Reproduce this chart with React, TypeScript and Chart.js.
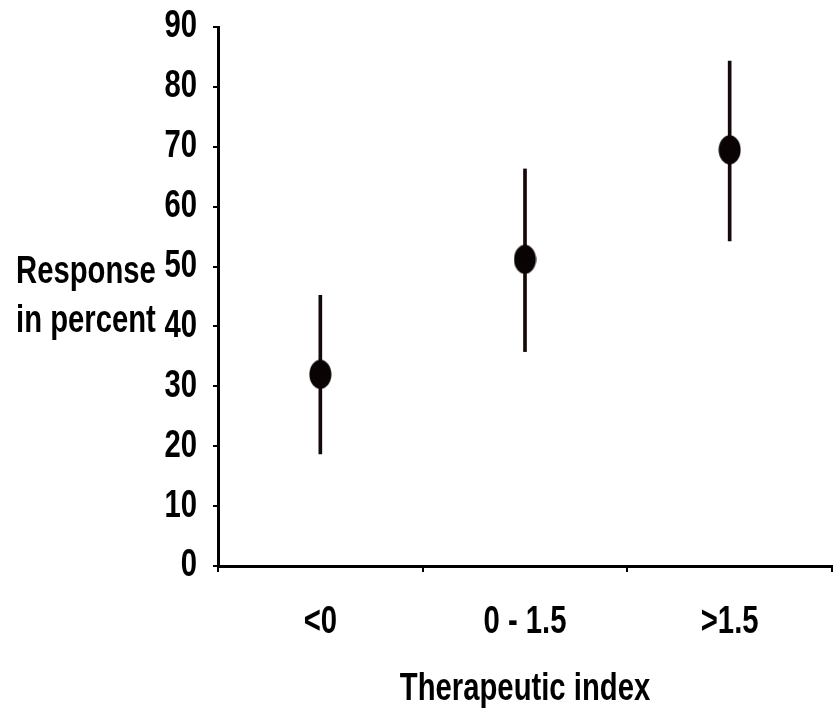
import React, { useEffect, useRef } from "react";
import { Chart, registerables } from "chart.js";

Chart.register(...registerables);

const categories = ["<0", "0 - 1.5", ">1.5"];
const responseMean = [32.0, 51.2, 69.5];
const errorLow = [18.7, 35.8, 54.3];
const errorHigh = [45.2, 66.3, 84.3];
const yTitleLines = ["Response", "in percent"];
const xTitle = "Therapeutic index";

const FONT = "'Liberation Sans', Arial, sans-serif";
const FONT_SIZE = 38;
const SQUEEZE = 0.77;

function makeEllipse(): HTMLCanvasElement {
  const c = document.createElement("canvas");
  c.width = 23;
  c.height = 30;
  const g = c.getContext("2d")!;
  g.fillStyle = "#0a0303";
  g.beginPath();
  g.ellipse(11.5, 15, 11, 14.5, 0, 0, Math.PI * 2);
  g.fill();
  return c;
}

// Narrow-font look: condense every text run horizontally via fillText's maxWidth
const narrowTextPlugin = {
  id: "narrowText",
  beforeInit(chart: any) {
    const ctx = chart.ctx;
    const orig = ctx.fillText;
    ctx.fillText = function (text: string, x: number, y: number, maxWidth?: number) {
      const w = this.measureText(text).width * SQUEEZE;
      const mw = maxWidth !== undefined ? Math.min(maxWidth, w) : w;
      return orig.call(this, text, x, y, mw);
    };
  },
};

const yTitlePlugin = {
  id: "yTitleHorizontal",
  afterDraw(chart: any) {
    const ctx = chart.ctx;
    const area = chart.chartArea;
    const mid = (area.top + area.bottom) / 2;
    ctx.save();
    ctx.font = `bold ${FONT_SIZE}px ${FONT}`;
    ctx.fillStyle = "#000";
    ctx.textAlign = "left";
    ctx.textBaseline = "alphabetic";
    ctx.fillText(yTitleLines[0], 16, mid - 14);
    ctx.fillText(yTitleLines[1], 16, mid + 35);
    ctx.restore();
  },
};

export default function App() {
  const ref = useRef<HTMLCanvasElement>(null);
  useEffect(() => {
    const point = makeEllipse();
    const chart = new Chart(ref.current!, {
      type: "bar",
      data: {
        labels: categories,
        datasets: [
          {
            type: "line",
            data: responseMean,
            showLine: false,
            pointStyle: point as any,
            pointRadius: 12,
            order: 0,
          } as any,
          {
            type: "bar",
            data: categories.map((_, i) => [errorLow[i], errorHigh[i]]),
            backgroundColor: "#140808",
            borderWidth: 0,
            barThickness: 3,
            order: 1,
          } as any,
        ],
      },
      options: {
        responsive: false,
        animation: false,
        layout: { autoPadding: false, padding: { left: 0, right: 1, top: 27, bottom: 0 } },
        plugins: { legend: { display: false }, tooltip: { enabled: false } },
        scales: {
          x: {
            offset: true,
            grid: {
              offset: true,
              drawOnChartArea: false,
              drawTicks: true,
              tickLength: 6,
              color: "#000",
              lineWidth: 2,
            },
            border: { display: true, color: "#000", width: 3 },
            ticks: {
              color: "#000",
              font: { family: FONT, size: FONT_SIZE, weight: "bold" },
              padding: 28,
              maxRotation: 0,
            },
            title: {
              display: true,
              text: xTitle,
              color: "#000",
              font: { family: FONT, size: FONT_SIZE, weight: "bold" },
              padding: { top: 12, bottom: 0 },
            },
            afterFit(scale: any) {
              scale.height = 146;
              scale.paddingLeft = 0;
              scale.paddingRight = 0;
            },
          },
          y: {
            min: 0,
            max: 90,
            grid: {
              drawOnChartArea: false,
              drawTicks: true,
              tickLength: 5,
              color: "#000",
              lineWidth: 2,
            },
            border: { display: true, color: "#000", width: 3 },
            ticks: {
              stepSize: 10,
              color: "#000",
              font: { family: FONT, size: FONT_SIZE, weight: "bold" },
              padding: 16,
            },
            afterFit(scale: any) {
              scale.width = 218;
              scale.paddingTop = 0;
              scale.paddingBottom = 0;
            },
          },
        },
      },
      plugins: [narrowTextPlugin, yTitlePlugin],
    });
    return () => chart.destroy();
  }, []);
  return (
    <div style={{ position: "fixed", left: 0, top: 0, width: 833, height: 712, background: "#fff" }}>
      <canvas ref={ref} width={833} height={712} />
    </div>
  );
}
